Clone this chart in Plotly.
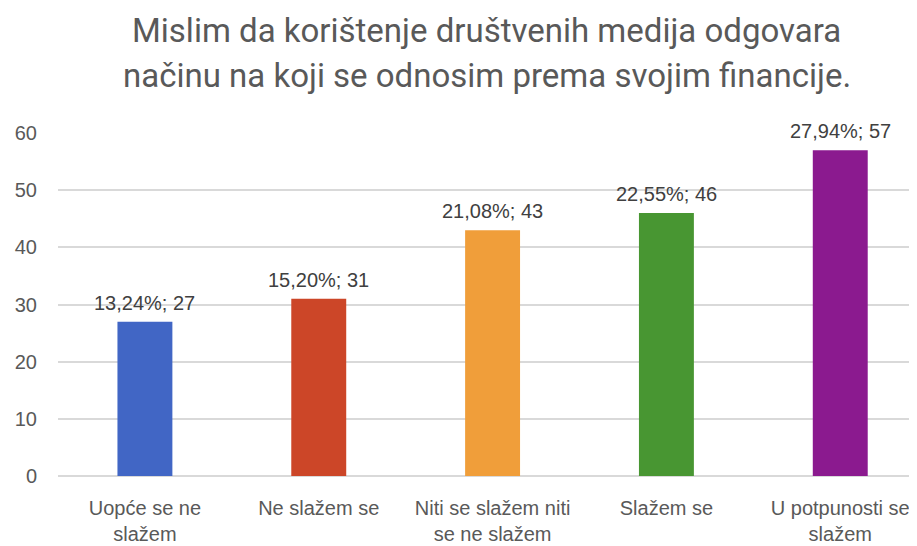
import plotly.graph_objects as go

categories = ["Uopće se ne<br>slažem", "Ne slažem se", "Niti se slažem niti<br>se ne slažem",
              "Slažem se", "U potpunosti se<br>slažem"]
counts = [27, 31, 43, 46, 57]
percent_labels = ["13,24%", "15,20%", "21,08%", "22,55%", "27,94%"]
bar_colors = ["#4166C5", "#CC4628", "#F09E3A", "#489632", "#8B1A8F"]
y_ticks = [0, 10, 20, 30, 40, 50, 60]
title_lines = ["Mislim da korištenje društvenih medija odgovara",
               "načinu na koji se odnosim prema svojim financije."]

fig = go.Figure()
fig.add_trace(go.Bar(
    x=categories, y=counts, marker=dict(color=bar_colors, line=dict(width=0)),
    width=0.316, hoverinfo="skip",
))

for c, v, p in zip(categories, counts, percent_labels):
    fig.add_annotation(x=c, y=v, text=f"{p}; {v}", showarrow=False,
                       yanchor="bottom", yshift=6,
                       font=dict(family="Liberation Sans, Arial", size=20, color="#404040"))

for yy, line in zip([1.300, 1.169], title_lines):
    fig.add_annotation(xref="paper", yref="paper", x=0.5, y=yy, text=line, showarrow=False,
                       xanchor="center", yanchor="middle",
                       font=dict(family="Liberation Sans Narrow, Roboto, Arial", size=33, color="#595959"))

fig.update_layout(
    width=909, height=538,
    margin=dict(l=50, r=2, t=125, b=70),
    paper_bgcolor="white", plot_bgcolor="white",
    showlegend=False,
    xaxis=dict(showgrid=False, showline=False, ticks="", automargin=False, ticklabelstandoff=18,
               range=[-0.5, 4.43],
               tickfont=dict(family="Liberation Sans, Arial", size=20, color="#595959")),
    yaxis=dict(range=[0, 60], tickvals=y_ticks, showgrid=True, gridcolor="#D9D9D9", gridwidth=1.5,
               zeroline=True, zerolinecolor="#D9D9D9", zerolinewidth=1.5, automargin=False,
               showline=False, ticks="", ticklabelstandoff=20,
               tickfont=dict(family="Liberation Sans, Arial", size=20, color="#595959")),
)

fig.write_html("out.html")
